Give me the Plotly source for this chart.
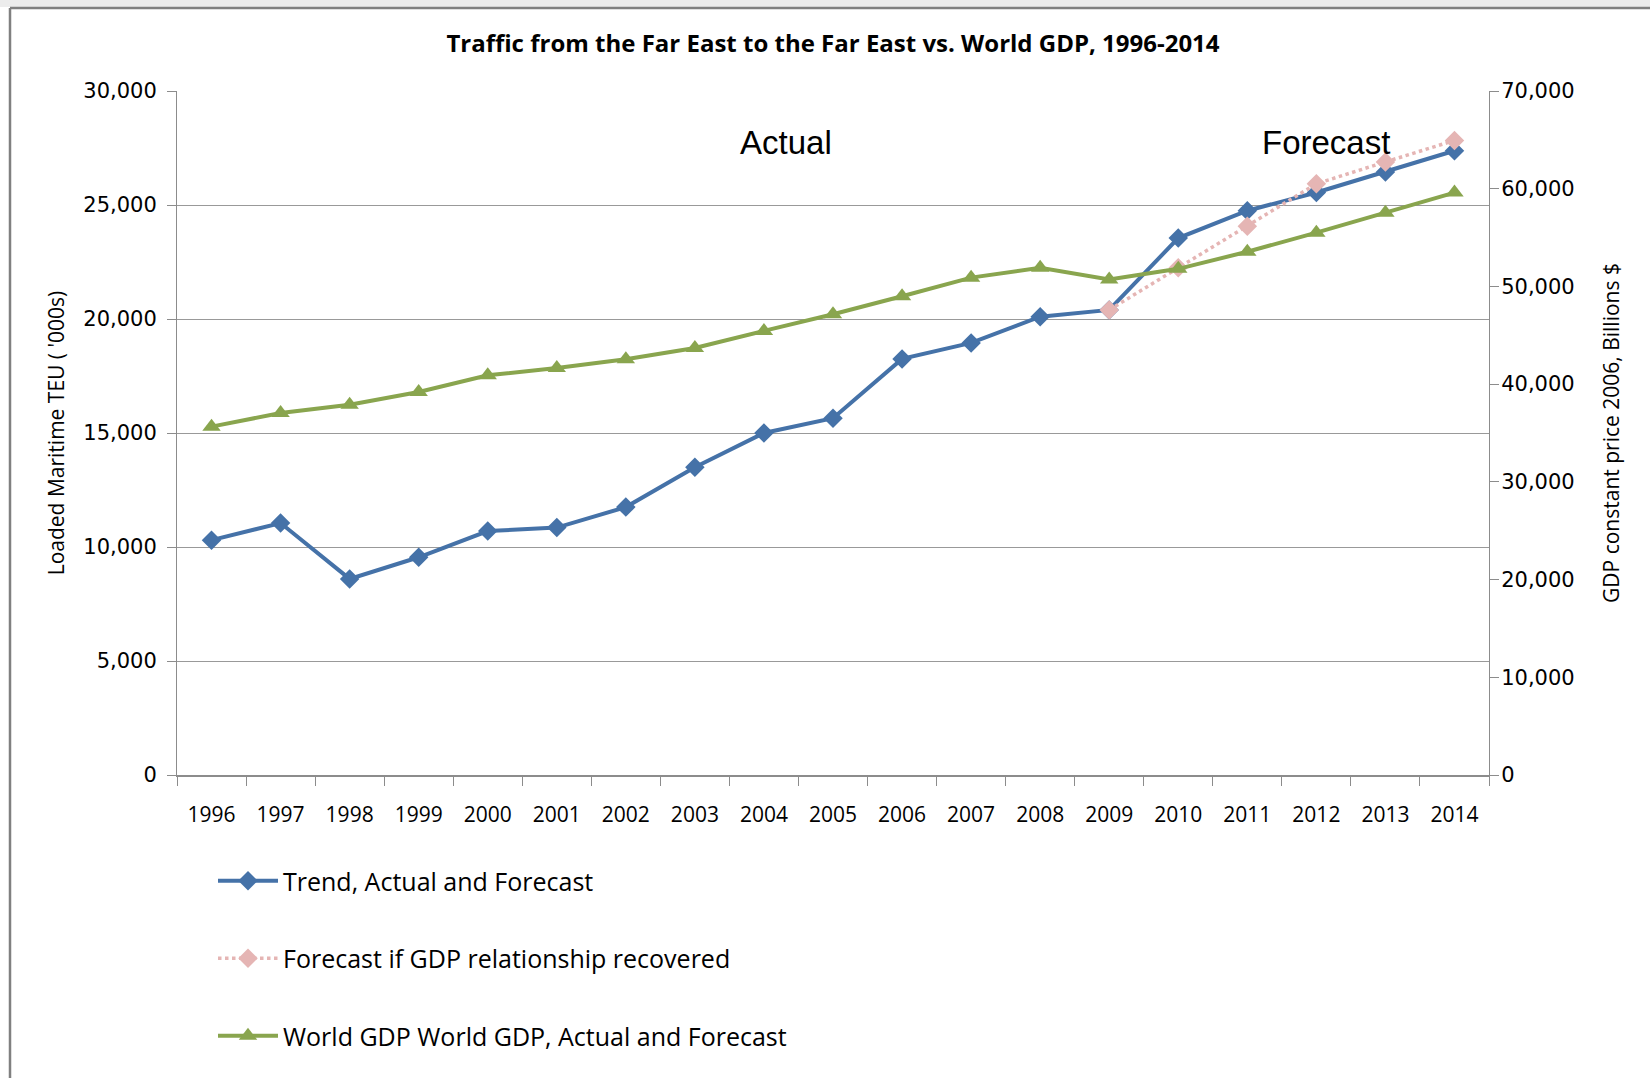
import plotly.graph_objects as go

years = ["1996", "1997", "1998", "1999", "2000", "2001", "2002", "2003", "2004", "2005",
         "2006", "2007", "2008", "2009", "2010", "2011", "2012", "2013", "2014"]

trend_teu = [10300, 11050, 8600, 9550, 10700, 10850, 11750, 13500, 15000, 15650,
             18250, 18950, 20100, 20400, 23550, 24750, 25550, 26450, 27380]

gdp_recovered_teu = [None, None, None, None, None, None, None, None, None, None,
                     None, None, None, 20400, 22250, 24070, 25930, 26890, 27830]

world_gdp = [35650, 37050, 37900, 39200, 40900, 41650, 42550, 43700, 45450, 47150,
             49000, 50900, 51900, 50700, 51800, 53550, 55500, 57550, 59600]

forecast_start = "2010"

left_ticks = [0, 5000, 10000, 15000, 20000, 25000, 30000]
right_ticks = [0, 10000, 20000, 30000, 40000, 50000, 60000, 70000]

W, H = 1650, 1078
ML, MR, MT, MB = 177, 161, 91, 303
PW, PH = W - ML - MR, H - MT - MB


def px_x(px):
    return (px - ML) / PW


def px_y(py):
    return (H - MB - py) / PH


BLUE = "#4572a8"
PINK = "#e5b5b4"
GREEN = "#89a54e"
AX = "#8c8c8c"
FONT_TXT = "Open Sans, DejaVu Sans, sans-serif"
FONT_NUM = "DejaVu Sans, sans-serif"

fig = go.Figure()

fig.add_trace(go.Scatter(
    x=years, y=trend_teu, name="Trend, Actual and Forecast",
    mode="lines+markers", legendgroup="a",
    line=dict(color=BLUE, width=4),
    marker=dict(symbol="diamond", size=15, color=BLUE),
    yaxis="y",
))
fig.add_trace(go.Scatter(
    x=years, y=gdp_recovered_teu, name="Forecast if GDP relationship recovered",
    mode="lines+markers", legendgroup="b",
    line=dict(color=PINK, width=3.5, dash="dot"),
    marker=dict(symbol="diamond", size=15, color=PINK),
    yaxis="y",
))
fig.add_trace(go.Scatter(
    x=years, y=world_gdp, name="World GDP World GDP, Actual and Forecast",
    mode="lines+markers", legendgroup="c",
    line=dict(color=GREEN, width=4),
    marker=dict(symbol="triangle-up", size=16, color=GREEN),
    yaxis="y2",
))

shapes = [
    # vertical divider between actual and forecast
    dict(type="line", xref="x", yref="paper", x0=forecast_start, x1=forecast_start,
         y0=0, y1=1.008, line=dict(color="#9fcdf5", width=2.5), layer="above"),
    # outer frame (top band and left/top border)
    dict(type="rect", xref="paper", yref="paper", x0=px_x(0), x1=px_x(W), y0=px_y(0), y1=px_y(7),
         fillcolor="#ececec", line=dict(width=0), layer="below"),
    dict(type="line", xref="paper", yref="paper", x0=px_x(10), x1=px_x(W), y0=px_y(8), y1=px_y(8),
         line=dict(color="#808080", width=2.5)),
    dict(type="line", xref="paper", yref="paper", x0=px_x(10), x1=px_x(10), y0=px_y(8), y1=px_y(H),
         line=dict(color="#808080", width=2.5)),
]

annotations = [
    dict(text="Actual", xref="paper", yref="paper", x=px_x(786), y=px_y(142),
         xanchor="center", yanchor="middle",
         showarrow=False, font=dict(family="Liberation Sans, Arial, sans-serif", size=33, color="#000")),
    dict(text="Forecast", xref="paper", yref="paper", x=px_x(1326), y=px_y(142),
         xanchor="center", yanchor="middle",
         showarrow=False, font=dict(family="Liberation Sans, Arial, sans-serif", size=33, color="#000")),
]

fig.update_layout(
    width=W, height=H,
    margin=dict(l=ML, r=MR, t=MT, b=MB, autoexpand=False),
    paper_bgcolor="white", plot_bgcolor="white",
    title=dict(text="<b>Traffic from the Far East to the Far East vs. World GDP, 1996-2014</b>",
               x=0.5, xref="paper", xanchor="center", y=1 - 44 / H, yanchor="middle",
               font=dict(family=FONT_TXT, size=24, color="#000")),
    xaxis=dict(
        type="category", range=[-0.5, len(years) - 0.5], tickson="boundaries",
        ticks="outside", ticklen=9, tickcolor=AX, tickwidth=1,
        showline=True, linecolor=AX, linewidth=2, showgrid=False, zeroline=False,
        tickfont=dict(family=FONT_TXT, size=21, color="#000"), ticklabelstandoff=20,
    ),
    yaxis=dict(
        range=[0, 30000], tickvals=left_ticks, tickformat=",d",
        ticks="outside", ticklen=9, tickcolor=AX, showline=True, linecolor=AX, linewidth=1,
        showgrid=True, gridcolor="#999999", gridwidth=1, zeroline=False,
        tickfont=dict(family=FONT_NUM, size=21, color="#000"), ticklabelstandoff=6,
        title=dict(text="Loaded Maritime TEU ( '000s)", standoff=12,
                   font=dict(family=FONT_TXT, size=21, color="#000")),
    ),
    yaxis2=dict(
        range=[0, 70000], tickvals=right_ticks, tickformat=",d", overlaying="y", side="right",
        ticks="outside", ticklen=9, tickcolor=AX, showline=True, linecolor=AX, linewidth=1,
        showgrid=False, zeroline=False,
        tickfont=dict(family=FONT_NUM, size=21, color="#000"), ticklabelstandoff=-2,
        title=dict(text="GDP constant price 2006, Billions $", standoff=30,
                   font=dict(family=FONT_TXT, size=21, color="#000")),
    ),
    legend=dict(
        x=px_x(213), y=px_y(858), xanchor="left", yanchor="top",
        orientation="v", traceorder="grouped", tracegroupgap=42,
        font=dict(family=FONT_TXT, size=25, color="#000"),
        bgcolor="rgba(0,0,0,0)", itemwidth=60,
    ),
    shapes=shapes,
    annotations=annotations,
)

fig.write_html("out.html")
